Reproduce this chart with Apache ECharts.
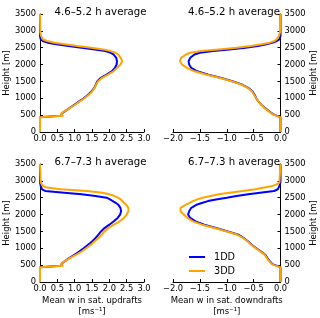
<!DOCTYPE html>
<html><head><meta charset="utf-8">
<script src="https://cdn.jsdelivr.net/npm/echarts@6/dist/echarts.min.js"></script>
<style>html,body{margin:0;padding:0;background:#fff}#c{width:320px;height:318px}</style>
</head><body><div id="c"></div>
<script>
const heights = [0,440,460,480,500,530,560,600,
 700,800,900,1000,1100,1200,1300,1400,1500,1600,1700,1800,1900,2000,2100,2200,2300,
 2350,2400,2450,2500,2550,2600,2650,2700,2750,2800,2850,2900,2950,3000,3500];

const titles = ['4.6\u20135.2 h average','4.6\u20135.2 h average','6.7\u20137.3 h average','6.7\u20137.3 h average'];
const seriesNames = ['1DD','3DD'];
const upXTicks = [0,3,0.5];
const dnXTicks = [-2,0,0.5];
const yTicks = [0,3500,500];

const upEarly1DD = [0,0,0.05,0.6,0.61,0.62,0.64,0.68,
 0.84,0.98,1.12,1.26,1.38,1.48,1.56,1.61,1.65,1.74,1.92,2.07,2.16,2.21,2.22,2.2,2.12,
 2.04,1.88,1.58,1.2,0.82,0.47,0.22,0.08,0.02,0,0,0,0,0,0];
const upEarly3DD = [0,0,0.3,0.67,0.67,0.6,0.63,0.68,
 0.85,1.0,1.14,1.28,1.4,1.5,1.57,1.62,1.67,1.78,1.96,2.12,2.22,2.32,2.37,2.33,2.25,
 2.18,2.03,1.82,1.48,1.08,0.72,0.42,0.2,0.08,0.05,0.03,0.02,0.01,0,0];
const dnEarly1DD = [0,0,0,0,-0.1,-0.14,-0.17,-0.2,
 -0.28,-0.35,-0.41,-0.45,-0.48,-0.52,-0.59,-0.71,-0.88,-1.1,-1.34,-1.55,-1.66,-1.7,-1.71,-1.68,-1.6,
 -1.5,-1.25,-0.95,-0.65,-0.42,-0.26,-0.14,-0.07,-0.02,0,0,0,0,0,0];
const dnEarly3DD = [0,0,0,0,-0.11,-0.15,-0.18,-0.21,
 -0.29,-0.35,-0.41,-0.45,-0.49,-0.53,-0.6,-0.72,-0.9,-1.12,-1.37,-1.6,-1.74,-1.83,-1.87,-1.85,-1.76,
 -1.68,-1.48,-1.15,-0.82,-0.55,-0.35,-0.2,-0.11,-0.07,-0.05,-0.03,-0.02,-0.01,0,0];
const upLate1DD = [0,0,0.05,0.6,0.61,0.62,0.64,0.68,
 0.83,0.98,1.13,1.26,1.38,1.5,1.6,1.68,1.76,1.86,2.0,2.13,2.24,2.31,2.34,2.32,2.25,
 2.18,2.1,2.02,1.92,1.6,1.2,0.7,0.15,0.06,0.04,0.02,0.01,0,0,0];
const upLate3DD = [0,0,0.3,0.67,0.67,0.6,0.63,0.68,
 0.85,1.02,1.2,1.33,1.46,1.57,1.68,1.78,1.86,1.97,2.13,2.3,2.42,2.5,2.55,2.55,2.48,
 2.42,2.37,2.33,2.25,2.15,2.0,1.8,1.35,0.6,0.2,0.08,0.05,0.02,0,0];
const dnLate1DD = [0,0,0,0,-0.1,-0.15,-0.17,-0.19,
 -0.24,-0.28,-0.36,-0.45,-0.53,-0.6,-0.68,-0.78,-0.98,-1.2,-1.42,-1.58,-1.68,-1.72,-1.7,-1.66,-1.55,
 -1.45,-1.35,-1.2,-1.0,-0.82,-0.6,-0.38,-0.12,-0.05,-0.03,-0.02,-0.01,0,0,0];
const dnLate3DD = [0,0,0,0,-0.12,-0.16,-0.18,-0.2,
 -0.25,-0.29,-0.37,-0.46,-0.54,-0.61,-0.69,-0.8,-1.0,-1.23,-1.46,-1.63,-1.73,-1.8,-1.86,-1.86,-1.75,
 -1.69,-1.63,-1.55,-1.45,-1.3,-1.15,-0.95,-0.7,-0.47,-0.3,-0.15,-0.06,-0.02,0,0];

const FONT = 'DejaVu Sans';
const colors = ['#0000ff','#ffa500'];
const pairs = v => v.map((x,i)=>[x, heights[i]]);
const fmt = v => (v<0?'\u2212':'') + Math.abs(v).toFixed(1);
const fmtY = v => String(Math.round(v));

const grids = [
 {left:40, top:14, width:104, height:118},
 {left:173, top:14, width:107.5, height:118},
 {left:40, top:164, width:104, height:118},
 {left:173, top:164, width:107.5, height:118}
];
const axisLineStyle = {show:true, lineStyle:{color:'#000', width:1}};
const xAxis = grids.map((g,i)=>{
  const t = (i%2===0)?upXTicks:dnXTicks;
  const o = {type:'value', gridIndex:i, min:t[0], max:t[1], interval:t[2],
    axisLine:axisLineStyle, axisTick:{show:true, inside:true, length:3, lineStyle:{color:'#000'}},
    splitLine:{show:false},
    axisLabel:{fontFamily:FONT, fontSize:8.3, color:'#000', margin:3, formatter:fmt}};
  if (i>=2) {
    o.name = (i===2?'Mean w in sat. updrafts':'Mean w in sat. downdrafts') + '\n[ms\u207B\u00B9]';
    o.nameLocation = 'middle'; o.nameGap = 13;
    o.nameTextStyle = {fontFamily:FONT, fontSize:8.5, color:'#000', lineHeight:11};
  }
  return o;
});
const yAxis = grids.map((g,i)=>({type:'value', gridIndex:i, min:yTicks[0], max:yTicks[1], interval:yTicks[2],
  position: (i%2===0)?'left':'right',
  axisLine:axisLineStyle, axisTick:{show:true, inside:true, length:3, lineStyle:{color:'#000'}},
  splitLine:{show:false},
  axisLabel:{fontFamily:FONT, fontSize:8.3, color:'#000', margin:4, formatter:fmtY},
  name:'Height [m]', nameLocation:'middle', nameRotate:90,
  nameGap:(i%2===0)?28:26,
  nameTextStyle:{fontFamily:FONT, fontSize:8.5, color:'#000'}
}));
const data = [[upEarly1DD,upEarly3DD],[dnEarly1DD,dnEarly3DD],[upLate1DD,upLate3DD],[dnLate1DD,dnLate3DD]];
const series = [];
data.forEach((pair,i)=>{
  pair.forEach((vals,k)=>{
    series.push({type:'line', name:seriesNames[k], xAxisIndex:i, yAxisIndex:i,
      data:pairs(vals), showSymbol:false, symbol:'none', animation:false,
      lineStyle:{color:colors[k], width:2}, itemStyle:{color:colors[k]}});
  });
});
const titleCenters = [[95.5,1.5],[229,1.5],[95.5,151.5],[229,151.5]];
const title = titles.map((t,i)=>({text:t, left:titleCenters[i][0], top:titleCenters[i][1], textAlign:'center',
  textStyle:{fontFamily:FONT, fontSize:10.2, fontWeight:'normal', color:'#000', lineHeight:12}}));

const chart = echarts.init(document.getElementById('c'), null, {renderer:'canvas'});
chart.setOption({
  animation:false, backgroundColor:'#fff',
  title, grid:grids, xAxis, yAxis, series,
  legend:{data:seriesNames, orient:'vertical', left:184, top:247, itemWidth:16, itemHeight:10, itemGap:4,
    textStyle:{fontFamily:FONT, fontSize:9.7, color:'#000', padding:[0,0,0,4]}, icon:'path://M0,4L16,4L16,6L0,6Z'}
});
</script></body></html>
